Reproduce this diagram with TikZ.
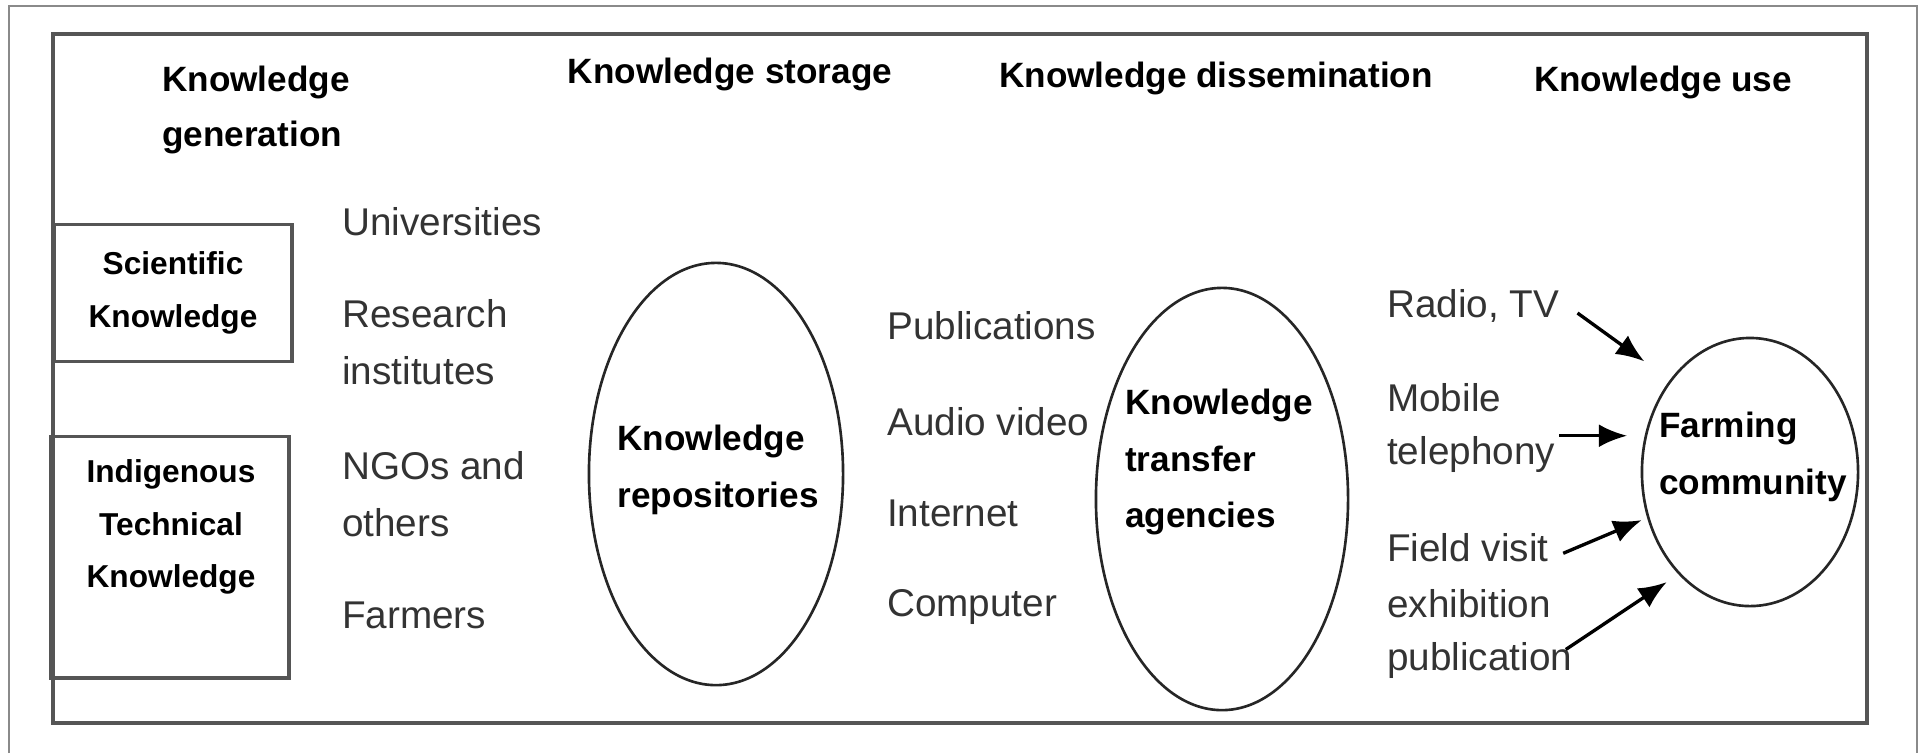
\documentclass[tikz,border=0pt]{standalone}
\usepackage{fontspec}
\setmainfont{Liberation Sans}
\usetikzlibrary{shapes.geometric,arrows.meta}
\definecolor{txtgrey}{HTML}{333333}
\definecolor{framegrey}{HTML}{8A8A8A}
\definecolor{boxgrey}{HTML}{555555}

\begin{document}
\begin{tikzpicture}[x=0.01cm, y=-0.01cm,
        head/.style={font=\bfseries\fontsize{10}{15.6}\selectfont, inner sep=1pt},
        item/.style={anchor=west, align=left, text=txtgrey, inner sep=1pt, font=\fontsize{11}{16.2}\selectfont},
        srctext/.style={align=center, inner sep=0pt, font=\bfseries\fontsize{9}{15}\selectfont},
        srcbox/.style={srctext, draw=boxgrey, line width=1.1pt, minimum width=2.37cm},
        hub/.style={ellipse, draw=black!85, line width=0.75pt, inner sep=0pt},
        hubtext/.style={align=left, inner sep=0pt, font=\bfseries\fontsize{10}{16}\selectfont},
        feed/.style={-{Latex[length=8pt,width=6.5pt]}, line width=0.95pt}]
        \useasboundingbox (0,0) rectangle (1924,753);
        \draw[framegrey, line width=0.8pt] (9,753) -- (9,6) -- (1917,6) -- (1917,753);
        \draw[boxgrey, line width=1.1pt] (53,34) rectangle (1867,723);

        \node[head, anchor=west, align=left] (gen) at (158,110) {Knowledge\\generation};
        \node[head] (store) at (730,74) {Knowledge storage};
        \node[head] (dissem) at (1216,78) {Knowledge dissemination};
        \node[head] (use) at (1663,82) {Knowledge use};

        \node[srcbox, minimum height=1.37cm] (sci) at (173,293) {Scientific\\Knowledge};
        \node[srcbox, minimum height=2.41cm] (itk) at (170,557) {};
        \node[srctext] (itktext) at (171,527) {Indigenous\\Technical\\Knowledge};

        \begin{scope}[every node/.style={item}]
            \node (univ) at (338,222) {Universities};
            \node (research) at (338,342) {Research\\institutes};
            \node (ngos) at (338,494) {NGOs and\\others};
            \node (farmers) at (338,615) {Farmers};
            \node (pubs) at (883,326) {Publications};
            \node (audio) at (883,422) {Audio video};
            \node (internet) at (883,513) {Internet};
            \node (computer) at (883,607) {Computer};
            \node (radio) at (1383,306) {Radio, TV};
            \node (mobile) at (1383,398) {Mobile};
            \node (telephony) at (1383,454) {telephony};
            \node (fieldvisit) at (1383,548) {Field visit};
            \node (exhibition) at (1383,604) {exhibition};
            \node (publication) at (1383,660) {publication};
        \end{scope}

        \node[hub, minimum width=2.54cm, minimum height=4.22cm] (repos) at (716,474) {};
        \node[hubtext] (repostext) at (718,470) {Knowledge\\repositories};
        \node[hub, minimum width=2.52cm, minimum height=4.22cm] (kta) at (1222,499) {};
        \node[hubtext] (ktatext) at (1219,462) {Knowledge\\transfer\\agencies};
        \node[hub, minimum width=2.16cm, minimum height=2.68cm] (farm) at (1750,472) {};
        \node[hubtext] (farmtext) at (1753,457) {Farming\\community};

        \draw[feed, shorten >=9pt] ([xshift=4pt,yshift=-2pt]radio.east) -- (farm.131);
        \draw[feed, shorten >=5pt] (telephony.east |- farm.161) -- (farm.161);
        \draw[feed, shorten >=1.7pt] ([xshift=3pt,yshift=-1.5pt]fieldvisit.east) -- (farm.204);
        \draw[feed, shorten >=4pt] ([xshift=-3pt,yshift=3pt]publication.east) -- (farm.235);
    \end{tikzpicture}
\end{document}
